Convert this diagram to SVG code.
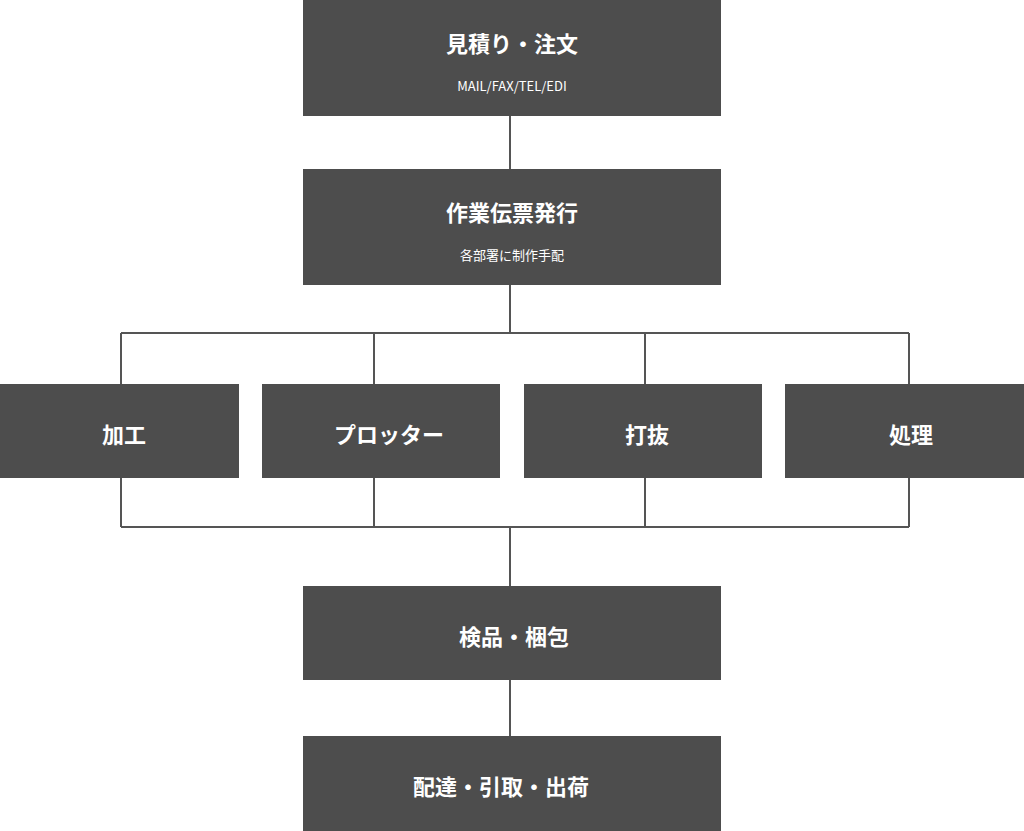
<svg xmlns="http://www.w3.org/2000/svg" width="1024" height="831" viewBox="0 0 1024 831">
<style>
.b{fill:#4d4d4d}
.t{fill:#fff;font-family:"Noto Sans CJK JP","Noto Sans",sans-serif;font-weight:bold;font-size:22px;text-anchor:middle}
.s{fill:#fff;font-family:"Noto Sans CJK JP","Noto Sans",sans-serif;font-size:13px;text-anchor:middle}
.c{stroke:#555;stroke-width:2;fill:none}
</style>
<rect width="1024" height="831" fill="#fff"/>
<g id="connectors">
<path class="c" d="M510 116V169M510 285V333M121 333H909M121 333V384M374 333V384M645 333V384M909 333V384M121 478V527M374 478V527M645 478V527M909 478V527M121 527H909M510 527V586M510 680V736"/>
</g>
<g id="n1"><rect class="b" x="303" y="0" width="418" height="116"/><text class="t" x="512" y="52">見積り・注文</text><text class="s" x="512" y="91">MAIL/FAX/TEL/EDI</text></g>
<g id="n2"><rect class="b" x="303" y="169" width="418" height="116"/><text class="t" x="512" y="221">作業伝票発行</text><text class="s" x="512" y="260">各部署に制作手配</text></g>
<g id="n3"><rect class="b" x="0" y="384" width="239" height="94"/><text class="t" x="124" y="443">加工</text></g>
<g id="n4"><rect class="b" x="262" y="384" width="238" height="94"/><text class="t" x="389" y="443">プロッター</text></g>
<g id="n5"><rect class="b" x="524" y="384" width="238" height="94"/><text class="t" x="647" y="443">打抜</text></g>
<g id="n6"><rect class="b" x="785" y="384" width="239" height="94"/><text class="t" x="911" y="443">処理</text></g>
<g id="n7"><rect class="b" x="303" y="586" width="418" height="94"/><text class="t" x="514" y="645">検品・梱包</text></g>
<g id="n8"><rect class="b" x="303" y="736" width="418" height="95"/><text class="t" x="501" y="795">配達・引取・出荷</text></g>
</svg>
